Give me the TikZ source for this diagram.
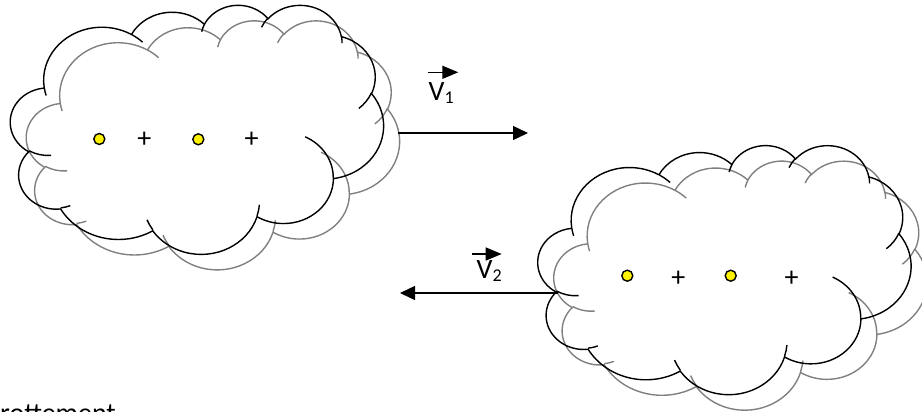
\documentclass[tikz,border=0pt]{standalone}
\usepackage{fontspec}
\setmainfont{Carlito}
\usetikzlibrary{arrows.meta,positioning}

\definecolor{cloudgray}{RGB}{128,128,128}

% size of one cloud (px)
\newcommand\cloudw{373}
\newcommand\cloudh{249}

% one bump of the cloud: x radius, y radius, start angle, sweep
\newcommand\cloudarc[4]{%
  \pgfextra{%
    \pgfmathsetmacro\cldS{-atan2((#1)*sin(#3),(#2)*cos(#3))}%
    \pgfmathsetmacro\cldE{-atan2((#1)*sin((#3)+(#4)),(#2)*cos((#3)+(#4)))}%
    \pgfmathsetmacro\cldD{-mod(\cldS-\cldE+720,360)}%
    \pgfmathsetmacro\cldX{(#1)/432*\cloudw}%
    \pgfmathsetmacro\cldY{(#2)/432*\cloudh}%
    \global\let\cldS\cldS \global\let\cldD\cldD
    \global\let\cldX\cldX \global\let\cldY\cldY}%
  arc[start angle=\cldS, delta angle=\cldD, x radius=\cldX pt, y radius=\cldY pt]}

% outline and inner hooks of the cloud
\newcommand\cloudpath{%
  (39.00,143.70) \cloudarc{67.53}{91.90}{-190.487}{123.781}
  \cloudarc{53.33}{72.67}{-144.102}{89.945}
  \cloudarc{43.65}{59.45}{-145.808}{99.723}
  \cloudarc{48.57}{65.95}{-130.986}{117.242}
  \cloudarc{53.33}{72.73}{-78.709}{109.027}
  \cloudarc{67.75}{92.20}{-46.267}{130.269}
  \cloudarc{57.85}{78.67}{0.625}{114.033}
  \cloudarc{67.52}{92.15}{22.452}{115.173}
  \cloudarc{77.20}{105.43}{66.243}{75.711}
  \cloudarc{43.60}{59.18}{-274.942}{146.736}
  \cloudarc{43.45}{59.45}{-246.829}{152.519} -- cycle
  (46.93,261.77) \cloudarc{43.45}{59.45}{86.742}{26.430}
  (69.28,348.99) \cloudarc{43.60}{59.18}{73.610}{11.447}
  (164.78,390.90) \cloudarc{67.52}{92.15}{137.624}{14.081}
  (288.27,347.51) \cloudarc{67.52}{92.15}{6.453}{15.998}
  (341.29,229.54) \cloudarc{57.85}{78.67}{-70.292}{70.917}
  (417.98,153.54) \cloudarc{53.33}{72.73}{30.318}{27.752}
  (383.24,54.26) \cloudarc{48.57}{65.95}{-13.744}{14.859}
  (290.78,39.52) \cloudarc{48.57}{65.95}{-149.181}{18.195}
  (221.41,47.20) \cloudarc{43.65}{59.45}{-163.494}{17.686}
  (140.00,51.92) \cloudarc{67.53}{91.90}{-66.707}{12.319}
  (41.27,157.89) \cloudarc{67.53}{91.90}{157.654}{11.858}}

\begin{document}
\begin{tikzpicture}
[x=1pt, y=-1pt, font=\fontsize{28}{34}\selectfont,
% STYLES
% outline of a cloud, and the grey shadow behind it
cloudline/.style={line width=1.4pt},
shadowline/.style={cloudline, draw=cloudgray},
cloudframe/.style={x=\cloudw/432*1pt, y=-\cloudh/432*1pt},
% the yellow charges and the plus signs
charge/.style={circle, draw, fill=yellow, line width=1.4pt, minimum size=11pt, inner sep=0pt},
plussign/.style={anchor=base, inner sep=0pt},
% velocity arrows and their names
velocity/.style={-{Triangle[length=15pt,width=14pt]}, line width=1.4pt},
vecsign/.style={-{Triangle[length=16pt,width=13pt]}, line width=1.5pt},
vname/.style={anchor=base west, inner sep=0pt}]

\useasboundingbox (0,0) rectangle (922,412);

% Draw clouds
\begin{scope}[shift={(26.5,20)}, cloudframe]
\draw[shadowline] \cloudpath;
\end{scope}
\begin{scope}[shift={(10.5,4.5)}, cloudframe]
\draw[cloudline] \cloudpath;
\end{scope}
\begin{scope}[shift={(554,160.3)}, cloudframe]
\draw[shadowline] \cloudpath;
\end{scope}
\begin{scope}[shift={(538,144.8)}, cloudframe]
\draw[cloudline] \cloudpath;
\end{scope}

% charges in the upper cloud
\node [charge] (dotA) at (99.3,139) {};
\node [plussign] (plusA) at (144.3,147.5) {+};
\node [charge] (dotB) at (198.3,139.3) {};
\node [plussign] (plusB) at (251.7,147.5) {+};

% charges in the lower cloud
\node [charge] (dotC) at (627.3,275.7) {};
\node [plussign] (plusC) at (678.3,286.5) {+};
\node [charge] (dotD) at (730.7,275.7) {};
\node [plussign] (plusD) at (791.7,286.5) {+};

% velocities
\coordinate (v1start) at (398,133);
\coordinate (v1end) at (528,133);
\coordinate (v2start) at (558,293);
\coordinate (v2end) at (400,293);
\draw[velocity] (v1start) -- (v1end);
\draw[velocity] (v2start) -- (v2end);

\node [vname] (vone) at (428.5,100) {V\raisebox{-3.3pt}{\fontsize{18}{20}\selectfont 1}};
\node [vname] (vtwo) at (476.5,278.3) {V\raisebox{-3.3pt}{\fontsize{18}{20}\selectfont 2}};
\coordinate (vonea) at (427.7,72.3);
\coordinate (voneb) at (458.3,72.3);
\coordinate (vtwoa) at (471.7,254);
\coordinate (vtwob) at (501.7,254);
\draw[vecsign] (vonea) -- (voneb);
\draw[vecsign] (vtwoa) -- (vtwob);

% cut text at the bottom
\node [vname] (friction) at (0,422) {rottement};

\end{tikzpicture}
\end{document}
